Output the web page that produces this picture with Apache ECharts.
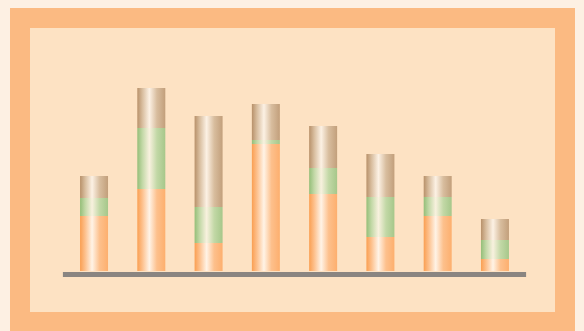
<!DOCTYPE html>
<html>
<head>
<meta charset="utf-8">
<script src="https://cdn.jsdelivr.net/npm/echarts@6/dist/echarts.min.js"></script>
<style>
html,body{margin:0;padding:0;background:#fdf0e3;}
#chart{width:584px;height:331px;}
</style>
</head>
<body>
<div id="chart"></div>
<script>
const categories = ['1', '2', '3', '4', '5', '6', '7', '8'];
const orangeValues = [55, 82, 28, 127, 77, 34, 55, 12];
const greenValues = [18, 61, 36, 4, 26, 40, 19, 19];
const tanValues = [22, 40, 91, 36, 42, 43, 21, 21];

function grad(edge, mid, light, edge2) {
  return new echarts.graphic.LinearGradient(0, 0, 1, 0, [
    { offset: 0, color: edge },
    { offset: 0.18, color: mid },
    { offset: 0.43, color: light },
    { offset: 0.7, color: mid },
    { offset: 1, color: edge2 }
  ]);
}

const chart = echarts.init(document.getElementById('chart'), null, { renderer: 'canvas' });
chart.setOption({
  backgroundColor: '#fdf0e3',
  animation: false,
  graphic: [{
    type: 'rect',
    z: -10,
    silent: true,
    shape: { x: 20, y: 18, width: 545, height: 304 },
    style: { fill: '#fde2c3', stroke: '#fbba82', lineWidth: 20 }
  }],
  grid: { left: 65.4, right: 60.4, top: 71, bottom: 60 },
  xAxis: {
    type: 'category',
    data: categories,
    offset: 3,
    axisLine: { onZero: false, lineStyle: { color: '#8a8581', width: 5, cap: 'square' } },
    axisTick: { show: false },
    axisLabel: { show: false },
    splitLine: { show: false }
  },
  yAxis: {
    type: 'value',
    min: 0,
    max: 200,
    show: false
  },
  series: [
    {
      type: 'bar', stack: 's', barWidth: 28, data: orangeValues,
      itemStyle: { color: grad('#fa9f52', '#fdc08c', '#fff3e6', '#fdaf6e') }
    },
    {
      type: 'bar', stack: 's', barWidth: 28, data: greenValues,
      itemStyle: { color: grad('#94be78', '#c2d8a6', '#f8f1de', '#a6c78a') }
    },
    {
      type: 'bar', stack: 's', barWidth: 28, data: tanValues,
      itemStyle: { color: grad('#b8916a', '#d8bd9e', '#fcf1e4', '#c29f7b') }
    }
  ]
});
</script>
</body>
</html>
